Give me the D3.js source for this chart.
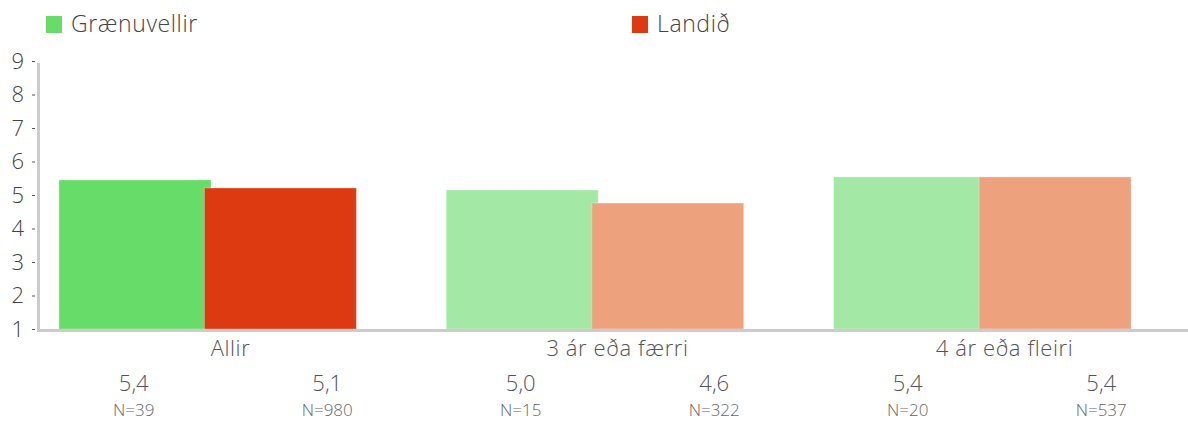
<!DOCTYPE html>
<html>
<head>
<meta charset="utf-8">
<script src="https://cdn.jsdelivr.net/npm/d3@7"></script>
<style>
  body { margin: 0; background: #fff; }
  text { font-family: "Open Sans", Lato, sans-serif; font-weight: 300; }
</style>
</head>
<body>
<div id="chart-area"></div>
<script>
var width = 1188;
var height = 421;

// data
var groups = ["Allir", "3 ár eða færri", "4 ár eða fleiri"];
var seriesNames = ["Grænuvellir", "Landið"];
var greenValues = [5.45, 5.15, 5.54];
var redValues = [5.21, 4.76, 5.54];
var valueLabels = ["5,4", "5,1", "5,0", "4,6", "5,4", "5,4"];
var nLabels = ["N=39", "N=980", "N=15", "N=322", "N=20", "N=537"];
var yTicks = [1, 2, 3, 4, 5, 6, 7, 8, 9];

var colors = {
    "Grænuvellir": ["#67dc68", "#a4e8a6", "#a4e8a6"],
    "Landið": ["#dd3a12", "#eea17d", "#eea17d"]
};

var svg = d3.select("#chart-area").append("svg")
    .attr("width", width)
    .attr("height", height);

var scaleY = d3.scaleLinear()
    .domain([1, 9])
    .range([329, 61]);

var scaleX = d3.scaleBand()
    .domain(groups)
    .range([38, 1152])
    .paddingInner(0.232)
    .paddingOuter(0.054);

var barW = 152;

// bars
var series = [greenValues, redValues];
series.forEach(function(vals, s) {
    var name = seriesNames[s];
    svg.append("g").selectAll("rect")
        .data(vals)
        .enter()
        .append("rect")
        .attr("x", function(d, i) {
            var x0 = scaleX(groups[i]);
            return s == 0 ? x0 : x0 + scaleX.bandwidth() - barW;
        })
        .attr("y", function(d) { return scaleY(d); })
        .attr("width", barW)
        .attr("height", function(d) { return scaleY(1) - scaleY(d); })
        .attr("fill", function(d, i) { return colors[name][i]; })
        .attr("stroke", "rgba(255,255,255,0.3)")
        .attr("stroke-width", 1);
});

// y axis
var y_axis = d3.axisLeft(scaleY)
    .tickValues(yTicks)
    .tickSize(4)
    .tickPadding(8)
    .tickFormat(d3.format("d"));

var yg = svg.append("g")
    .attr("transform", "translate(36, 0)")
    .call(y_axis);
yg.select(".domain").remove();
yg.selectAll(".tick line").attr("stroke", "#555").attr("x1", -4).attr("x2", -1);
yg.selectAll(".tick text")
    .attr("fill", "#444")
    .style("font-size", "22px");

// axis lines
svg.append("line")
    .attr("x1", 38.5).attr("x2", 38.5)
    .attr("y1", scaleY(9) + 2).attr("y2", 331)
    .attr("stroke", "#cccccc")
    .attr("stroke-width", 3);

svg.append("line")
    .attr("x1", 37).attr("x2", width)
    .attr("y1", 330.5).attr("y2", 330.5)
    .attr("stroke", "#cccccc")
    .attr("stroke-width", 3);

// category labels
var labelX = d3.scaleBand()
    .domain(groups)
    .range([37, 1198]);

svg.append("g").selectAll("text")
    .data(groups)
    .enter()
    .append("text")
    .text(function(d) { return d; })
    .attr("x", function(d) { return labelX(d) + labelX.bandwidth() / 2; })
    .attr("y", 356)
    .attr("text-anchor", "middle")
    .attr("fill", "#555")
    .style("font-size", "22px")
    .style("letter-spacing", "0.6px");

// value and N rows
var colX = d3.scaleBand()
    .domain(d3.range(valueLabels.length))
    .range([37, 1198]);

svg.append("g").selectAll("text")
    .data(valueLabels)
    .enter()
    .append("text")
    .text(function(d) { return d; })
    .attr("x", function(d, i) { return colX(i) + colX.bandwidth() / 2; })
    .attr("y", 391)
    .attr("text-anchor", "middle")
    .attr("fill", "#555")
    .style("font-size", "22px");

svg.append("g").selectAll("text")
    .data(nLabels)
    .enter()
    .append("text")
    .text(function(d) { return d; })
    .attr("x", function(d, i) { return colX(i) + colX.bandwidth() / 2; })
    .attr("y", 416)
    .attr("text-anchor", "middle")
    .attr("fill", "#666")
    .style("font-size", "17px");

// legend
var legendX = [46, 632];
var legend = svg.append("g").selectAll("g")
    .data(seriesNames)
    .enter()
    .append("g")
    .attr("transform", function(d, i) { return "translate(" + legendX[i] + ",16)"; });

legend.append("rect")
    .attr("width", 16)
    .attr("height", 17)
    .attr("fill", function(d) { return colors[d][0]; });

legend.append("text")
    .text(function(d) { return d; })
    .attr("x", 25)
    .attr("y", 16)
    .attr("fill", "#444")
    .style("font-size", "23px")
    .style("letter-spacing", "0.6px");
</script>
</body>
</html>
